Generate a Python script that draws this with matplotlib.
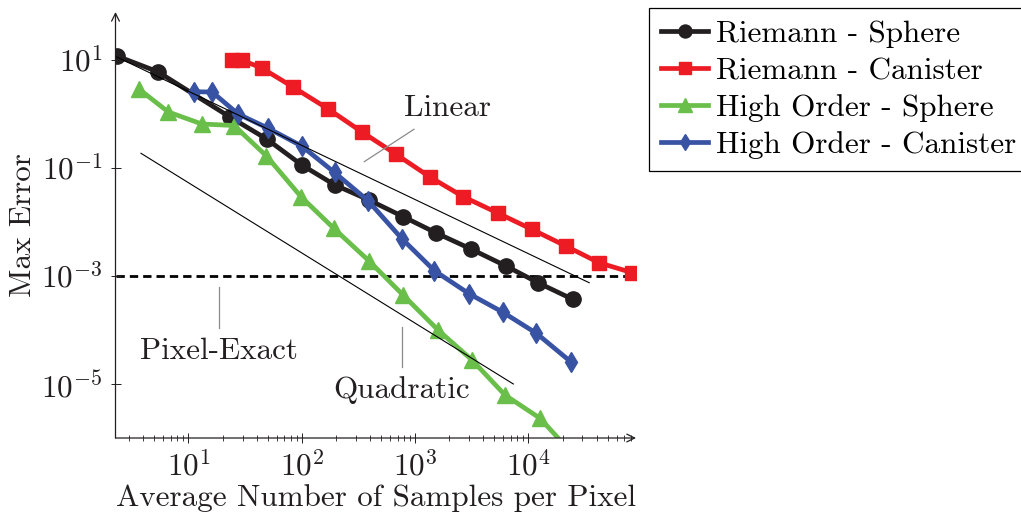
import numpy as np
import matplotlib
matplotlib.use("Agg")
import matplotlib.pyplot as plt
from matplotlib.ticker import FixedLocator, FuncFormatter, LogLocator, NullFormatter

plt.rcParams['font.family'] = 'cmr10'
plt.rcParams['mathtext.fontset'] = 'cm'
plt.rcParams['axes.formatter.use_mathtext'] = True
plt.rcParams['font.size'] = 22.4

# values
riemann_sphere_x = [2.32, 5.35, 23.2, 49.0, 99.8, 196, 392, 782, 1538, 3113, 6340, 12160, 24600]
riemann_sphere_y = [11.9, 6.07, 0.88, 0.344, 0.114, 0.0484, 0.0255, 0.0126, 0.00625,
                    0.00316, 0.00153, 7.5e-4, 3.7e-4]

riemann_canister_x = [24.0, 29.4, 44.3, 83.6, 169, 338, 672, 1353, 2662, 5420, 10690,
                      21300, 42000, 82600]
riemann_canister_y = [10.0, 10.0, 7.1, 3.16, 1.26, 0.468, 0.182, 0.068, 0.0294, 0.0145,
                      0.00733, 0.0036, 0.00176, 0.00115]

high_sphere_x = [3.69, 6.64, 13.1, 25.2, 48.8, 98.4, 192, 392, 782, 1592, 3178, 6210,
                 12650, 25200]
high_sphere_y = [2.85, 1.09, 0.653, 0.612, 0.167, 0.0294, 0.00759, 0.0019, 4.45e-4,
                 1.0e-4, 2.78e-5, 6.25e-6, 2.32e-6, 4.8e-7]

high_canister_x = [11.3, 16.2, 27.4, 50.6, 99.8, 194.5, 384, 762, 1483, 2993, 5930,
                   11750, 23600]
high_canister_y = [2.59, 2.55, 1.0, 0.543, 0.255, 0.0826, 0.0248, 0.00494, 0.00125,
                   4.7e-4, 2.14e-4, 8.7e-5, 2.59e-5]

linear_x = [2.32, 34400]
linear_y = [11.4, 7.5e-4]
quadratic_x = [3.81, 7360]
quadratic_y = [0.187, 1.0e-5]
pixel_exact = 1e-3

dark = '#231f20'
c_black = '#231f20'
c_red = '#ed1c24'
c_green = '#6abf4b'
c_blue = '#3953a4'

fig = plt.figure(figsize=(10.21, 5.21), dpi=100)
ax = fig.add_axes([115.5 / 1021, 1 - 438 / 521, (636 - 115.5) / 1021, (438 - 12) / 521])
ax.set_xscale('log')
ax.set_yscale('log')
ax.set_xlim(2.27, 8.9e4)
ax.set_ylim(1e-6, 77.4)

ax.axhline(pixel_exact, color='black', lw=2.0, dashes=(3, 1.8), zorder=1)

lw = 3.4
ax.plot(riemann_sphere_x, riemann_sphere_y, '-o', color=c_black, lw=lw, ms=11,
        label='Riemann - Sphere', zorder=3)
ax.plot(riemann_canister_x, riemann_canister_y, '-s', color=c_red, lw=lw, ms=10.5,
        label='Riemann - Canister', zorder=3)
ax.plot(high_sphere_x, high_sphere_y, '-^', color=c_green, lw=lw, ms=12,
        label='High Order - Sphere', zorder=3)
ax.plot(high_canister_x, high_canister_y, '-d', color=c_blue, lw=lw, ms=10,
        label='High Order - Canister', zorder=3)

# reference slopes
ax.plot(linear_x, linear_y, color='black', lw=0.8, zorder=5)
ax.plot(quadratic_x, quadratic_y, color='black', lw=0.8, zorder=5)

# pins and labels
pin = dict(color='#8a8a8a', lw=0.9, zorder=4)
ax.plot([356, 977], [0.131, 0.521], **pin)
ax.text(1914, 1.29, 'Linear', ha='center', va='center', color=dark)
ax.plot([18.7, 18.7], [6.18e-4, 1.07e-4], **pin)
ax.text(18.7, 4.08e-5, 'Pixel-Exact', ha='center', va='center', color=dark)
ax.plot([762, 762], [1.16e-4, 2.09e-5], **pin)
ax.text(762, 7.74e-6, 'Quadratic', ha='center', va='center', color=dark)

# axis styling: left/bottom lines with arrows
for s in ['top', 'right', 'left', 'bottom']:
    ax.spines[s].set_visible(False)
ax.annotate('', xy=(1.0, 0), xytext=(0, 0), xycoords='axes fraction',
            arrowprops=dict(arrowstyle='->', color=dark, lw=0.9, shrinkA=0, shrinkB=0,
                            mutation_scale=14))
ax.annotate('', xy=(0, 1.0), xytext=(0, 0), xycoords='axes fraction',
            arrowprops=dict(arrowstyle='->', color=dark, lw=0.9, shrinkA=0, shrinkB=0,
                            mutation_scale=14))

ax.xaxis.set_major_locator(FixedLocator([1e1, 1e2, 1e3, 1e4]))
ax.xaxis.set_minor_locator(LogLocator(base=10, subs=np.arange(2, 10), numticks=20))
ax.xaxis.set_minor_formatter(NullFormatter())
ax.yaxis.set_major_locator(FixedLocator([1e1, 1e-1, 1e-3, 1e-5]))
ax.yaxis.set_minor_locator(FixedLocator([]))
fmt = FuncFormatter(lambda v, p: r'$10^{%d}$' % round(np.log10(v)))
ax.xaxis.set_major_formatter(fmt)
ax.yaxis.set_major_formatter(fmt)
ax.tick_params(which='major', direction='inout', length=7, width=0.7, color=dark,
               labelcolor=dark, pad=6)
ax.tick_params(which='minor', direction='inout', length=4.3, width=0.6, color=dark)

ax.set_xlabel('Average Number of Samples per Pixel', color=dark, labelpad=1)
ax.set_ylabel('Max Error', color=dark, labelpad=3)

leg = fig.legend(loc='upper left', bbox_to_anchor=(649 / 1021, 1 - 8 / 521),
                 borderaxespad=0, fancybox=False, framealpha=1, edgecolor='black',
                 handlelength=1.5, handletextpad=0.26, borderpad=0.4, labelspacing=0.29,
                 markerscale=0.85)
leg.get_frame().set_linewidth(0.9)

fig.savefig('out.png', dpi=100)
